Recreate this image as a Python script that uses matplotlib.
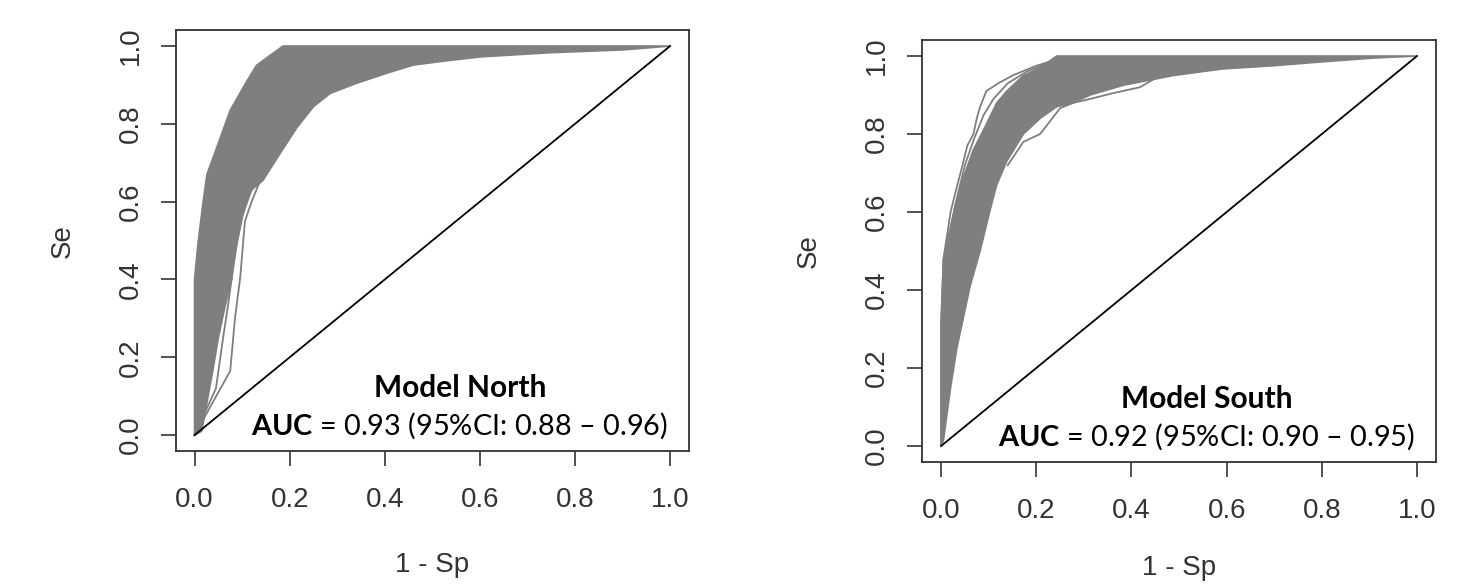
import matplotlib
matplotlib.use('Agg')
import matplotlib.pyplot as plt

plt.rcParams['font.family'] = ['Liberation Sans', 'DejaVu Sans']
plt.rcParams['mathtext.fontset'] = 'custom'
plt.rcParams['mathtext.rm'] = 'Lato'
plt.rcParams['mathtext.bf'] = 'Lato:bold'

# ---- Model North: band of bootstrap ROC curves (1-Sp, Se)
north_left_se = [0, 0.40, 0.49, 0.60, 0.67, 0.74, 0.835, 0.88, 0.91, 0.95, 0.97, 1.0]
north_left_fpr = [0, 0.0, 0.007, 0.018, 0.026, 0.047, 0.075, 0.096, 0.11, 0.13, 0.152, 0.186]
north_right_se = [0, 0.01, 0.17, 0.25, 0.33, 0.40, 0.47, 0.57, 0.63, 0.655, 0.724, 0.79,
                  0.844, 0.878, 0.904, 0.93, 0.951, 0.96, 0.972, 0.983, 0.99, 1.0]
north_right_fpr = [0, 0.015, 0.039, 0.05, 0.064, 0.078, 0.085, 0.102, 0.12, 0.144, 0.18, 0.215,
                   0.25, 0.285, 0.34, 0.404, 0.46, 0.516, 0.6, 0.75, 0.9, 1.0]
# two outlying curves below the band
north_out1_fpr = [0, 0.045, 0.06, 0.07, 0.08, 0.09, 0.10, 0.115, 0.13]
north_out1_se = [0, 0.12, 0.25, 0.33, 0.42, 0.50, 0.56, 0.62, 0.65]
north_out2_fpr = [0, 0.075, 0.085, 0.096, 0.106, 0.12, 0.13, 0.14]
north_out2_se = [0, 0.165, 0.30, 0.405, 0.55, 0.60, 0.63, 0.66]

# ---- Model South
south_left_se = [0, 0.31, 0.48, 0.605, 0.69, 0.76, 0.81, 0.88, 0.91, 0.95, 0.97, 1.0]
south_left_fpr = [0, 0.0, 0.005, 0.028, 0.047, 0.068, 0.089, 0.117, 0.138, 0.173, 0.208, 0.243]
south_right_se = [0, 0.015, 0.15, 0.25, 0.33, 0.41, 0.50, 0.605, 0.67, 0.73, 0.80, 0.84, 0.87,
                  0.88, 0.90, 0.925, 0.95, 0.967, 0.975, 0.985, 0.995, 1.0]
south_right_fpr = [0, 0.005, 0.02, 0.033, 0.047, 0.061, 0.082, 0.103, 0.117, 0.138, 0.173, 0.208,
                   0.243, 0.278, 0.313, 0.383, 0.488, 0.592, 0.697, 0.80, 0.91, 1.0]
# outer curves above and below the band
south_out1_fpr = [0, 0.0, 0.005, 0.02, 0.03, 0.045, 0.055, 0.068, 0.075, 0.082, 0.095,
                  0.12, 0.15, 0.17, 0.20, 0.24]
south_out1_se = [0, 0.31, 0.48, 0.60, 0.65, 0.72, 0.77, 0.80, 0.84, 0.87, 0.91,
                 0.93, 0.95, 0.96, 0.975, 0.99]
south_out2_fpr = [0.14, 0.173, 0.208, 0.229, 0.25, 0.278, 0.313, 0.362, 0.418, 0.453, 0.50]
south_out2_se = [0.72, 0.78, 0.80, 0.833, 0.866, 0.88, 0.89, 0.905, 0.92, 0.945, 0.955]
south_out3_fpr = [0.01, 0.03, 0.05, 0.07, 0.09, 0.11, 0.14, 0.18, 0.22]
south_out3_se = [0.50, 0.62, 0.72, 0.79, 0.85, 0.89, 0.93, 0.96, 0.98]

ticks = [0.0, 0.2, 0.4, 0.6, 0.8, 1.0]
tick_labels = ['0.0', '0.2', '0.4', '0.6', '0.8', '1.0']

panels = [
    dict(pos=[0.1186, 0.2296, 0.347, 0.7183], name='Model North', xlab_y=-0.24,
         auc='$\\mathbf{AUC}$ = 0.93 (95%CI: 0.88 – 0.96)',
         left=(north_left_fpr, north_left_se), right=(north_right_fpr, north_right_se),
         outs=[(north_out1_fpr, north_out1_se), (north_out2_fpr, north_out2_se)]),
    dict(pos=[0.623, 0.2109, 0.3473, 0.72], name='Model South', xlab_y=-0.222,
         auc='$\\mathbf{AUC}$ = 0.92 (95%CI: 0.90 – 0.95)',
         left=(south_left_fpr, south_left_se), right=(south_right_fpr, south_right_se),
         outs=[(south_out1_fpr, south_out1_se), (south_out2_fpr, south_out2_se),
               (south_out3_fpr, south_out3_se)]),
]

grey = '#7f7f7f'
fig = plt.figure(figsize=(14.8, 5.85), dpi=100)

for p in panels:
    ax = fig.add_axes(p['pos'])
    # band polygon: left edge going up, right edge coming back down
    xs = list(p['left'][0]) + list(p['right'][0])[::-1]
    ys = list(p['left'][1]) + list(p['right'][1])[::-1]
    ax.fill(xs, ys, color=grey, lw=1.2, ec=grey)
    for ox, oy in p['outs']:
        ax.plot(ox, oy, color=grey, lw=1.3)
    ax.plot([0, 1], [0, 1], color='black', lw=1.3)

    ax.set_xlim(-0.04, 1.04)
    ax.set_ylim(-0.04, 1.04)
    ax.set_xticks(ticks)
    ax.set_xticklabels(tick_labels)
    ax.set_yticks(ticks)
    ax.set_yticklabels(tick_labels, rotation=90, va='center')
    ax.tick_params(direction='out', length=11, width=1.2, labelsize=20, colors='#333333')
    ax.tick_params(axis='x', pad=15)
    ax.tick_params(axis='y', pad=12)
    for s in ax.spines.values():
        s.set_linewidth(1.3)
        s.set_color('#333333')
    ax.set_xlabel('1 - Sp', fontsize=20, color='#333333')
    ax.set_ylabel('Se', fontsize=20, color='#333333')
    ax.xaxis.set_label_coords(0.5, p['xlab_y'])
    ax.yaxis.set_label_coords(-0.195, 0.5)

    ax.text(0.558, 0.12, p['name'], fontsize=21.5, fontweight='bold', family='Lato',
            ha='center', va='center')
    ax.text(0.995, 0.025, p['auc'], fontsize=20.8, family='Lato', ha='right', va='center')

fig.savefig('out.png', dpi=100)
